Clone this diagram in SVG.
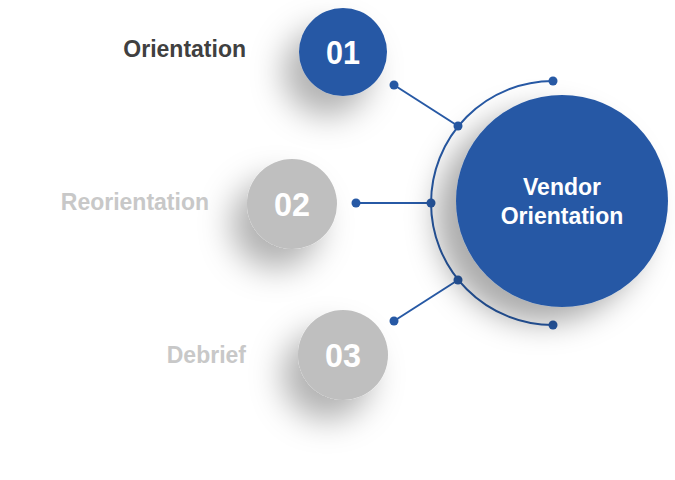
<svg xmlns="http://www.w3.org/2000/svg" width="675" height="480" viewBox="0 0 675 480">
<defs>
<filter id="sh" x="-100%" y="-100%" width="300%" height="300%">
<feDropShadow dx="-16" dy="20" stdDeviation="16" flood-color="#000" flood-opacity="0.3"/>
</filter>
<filter id="shb" x="-50%" y="-50%" width="200%" height="200%">
<feDropShadow dx="-20" dy="16" stdDeviation="15" flood-color="#000" flood-opacity="0.33"/>
</filter>
<style>
.blue{fill:#2759A5}
.gray{fill:#BFBFBF}
.num{font-family:"Liberation Sans",Arial,sans-serif;font-weight:bold;font-size:33px;fill:#fff;text-anchor:middle}
.lbl{font-family:"Liberation Sans",Arial,sans-serif;font-weight:bold;font-size:23px;text-anchor:end}
.ln{stroke:#2759A5;stroke-width:2;fill:none}
.dot{fill:#2759A5}
</style>
</defs>
<rect width="675" height="480" fill="#fff"/>
<g id="connectors">
<path class="ln" d="M553,81 A122,122 0 0 0 553,325"/>
<line class="ln" x1="394" y1="85" x2="458" y2="126"/>
<line class="ln" x1="356" y1="203" x2="431" y2="203"/>
<line class="ln" x1="394" y1="321" x2="458" y2="280"/>
<circle class="dot" cx="553" cy="81" r="4.5"/>
<circle class="dot" cx="553" cy="325" r="4.5"/>
<circle class="dot" cx="458" cy="126" r="4.5"/>
<circle class="dot" cx="431" cy="203" r="4.5"/>
<circle class="dot" cx="458" cy="280" r="4.5"/>
<circle class="dot" cx="394" cy="85" r="4.5"/>
<circle class="dot" cx="356" cy="203" r="4.5"/>
<circle class="dot" cx="394" cy="321" r="4.5"/>
</g>
<g id="center">
<circle class="blue" cx="562" cy="201" r="106" filter="url(#shb)"/>
<text x="562" y="195" font-family="Liberation Sans,Arial,sans-serif" font-weight="bold" font-size="23" fill="#fff" text-anchor="middle">Vendor</text>
<text x="562" y="224" font-family="Liberation Sans,Arial,sans-serif" font-weight="bold" font-size="23" fill="#fff" text-anchor="middle">Orientation</text>
</g>
<g id="n01">
<circle class="blue" cx="343" cy="52" r="44" filter="url(#sh)"/>
<text class="num" x="343" y="64" textLength="34" lengthAdjust="spacingAndGlyphs">01</text>
<text class="lbl" x="246" y="57" fill="#404040">Orientation</text>
</g>
<g id="n02">
<circle class="gray" cx="292" cy="204" r="45" filter="url(#sh)"/>
<text class="num" x="292" y="216" textLength="36" lengthAdjust="spacingAndGlyphs">02</text>
<text class="lbl" x="209" y="210" fill="#C8C8C8">Reorientation</text>
</g>
<g id="n03">
<circle class="gray" cx="343" cy="355" r="45" filter="url(#sh)"/>
<text class="num" x="343" y="367" textLength="36" lengthAdjust="spacingAndGlyphs">03</text>
<text class="lbl" x="246" y="363" fill="#C8C8C8">Debrief</text>
</g>
</svg>
